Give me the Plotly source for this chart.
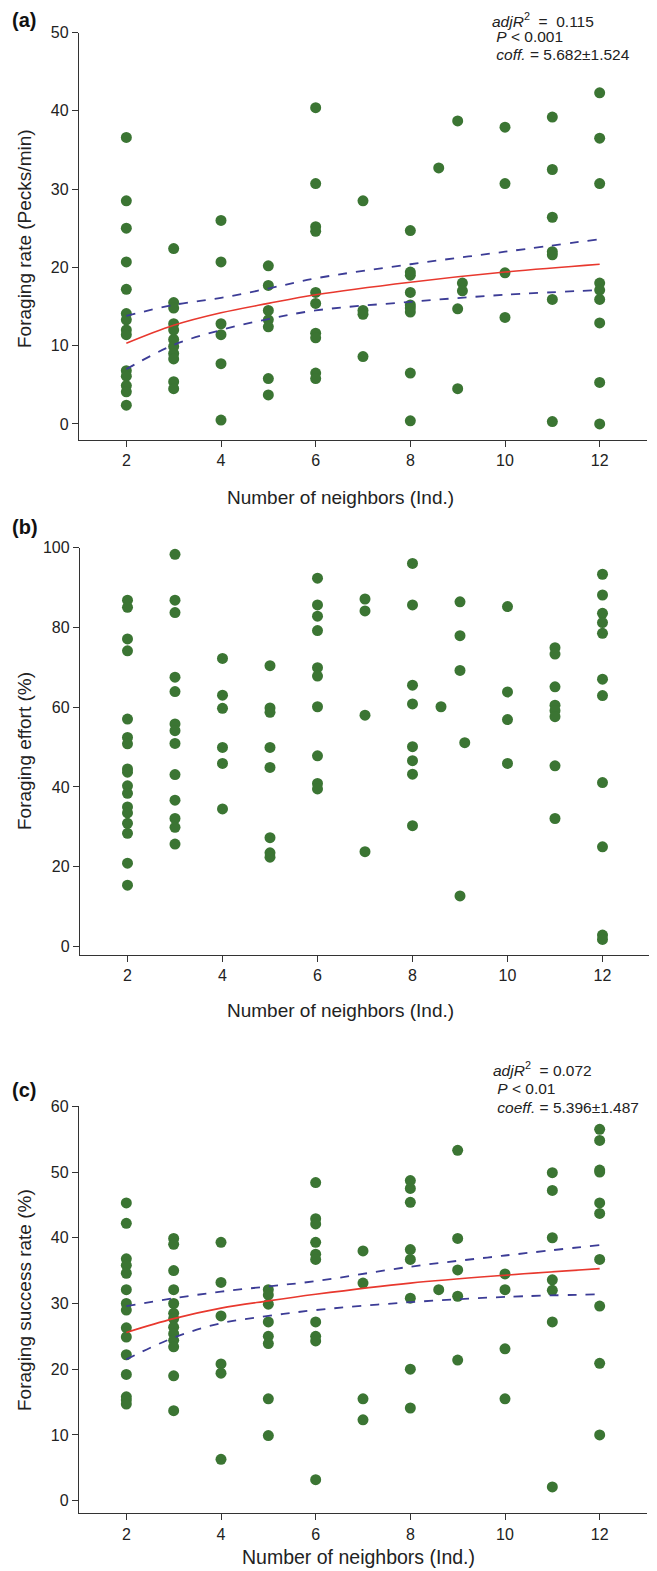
import plotly.graph_objects as go

W, H = 657, 1571
OFF = 8  # browser default body margin
FW, FH = W - OFF, H - OFF

# ---------------- data ----------------
# Panel (a): foraging rate (pecks/min)
a_x = ([2]*14 + [3]*11 + [4]*6 + [5]*7 + [6]*10 + [7]*4 + [8]*9 + [8.6] +
       [9]*3 + [9.1]*2 + [10]*4 + [11]*7 + [12]*9)
a_y = ([36.6, 28.5, 25.0, 20.7, 17.2, 14.1, 13.3, 12.0, 11.4, 6.8, 6.1, 4.9, 4.1, 2.4] +
       [22.4, 15.5, 14.8, 12.8, 12.0, 10.8, 9.9, 9.0, 8.3, 5.4, 4.5] +
       [26.0, 20.7, 12.8, 11.4, 7.7, 0.5] +
       [20.2, 17.7, 14.5, 13.3, 12.4, 5.8, 3.7] +
       [40.4, 30.7, 25.2, 24.6, 16.8, 15.4, 11.6, 11.0, 6.5, 5.8] +
       [28.5, 14.5, 14.0, 8.6] +
       [24.7, 19.4, 19.0, 16.8, 15.2, 14.8, 14.3, 6.5, 0.4] +
       [32.7] +
       [38.7, 14.7, 4.5] + [18.0, 17.0] +
       [37.9, 30.7, 19.3, 13.6] +
       [39.2, 32.5, 26.4, 22.0, 21.6, 15.9, 0.3] +
       [42.3, 36.5, 30.7, 18.0, 17.1, 15.9, 12.9, 5.3, 0.0])

# Panel (b): foraging effort (%)
b_x = ([2]*17 + [3]*13 + [4]*6 + [5]*8 + [6]*10 + [7]*4 + [8]*8 + [8.6] +
       [9]*4 + [9.1] + [10]*4 + [11]*8 + [12]*11)
b_y = ([86.8, 85.0, 77.1, 74.1, 57.0, 52.4, 50.8, 44.5, 43.7, 40.3, 38.4, 35.0, 33.5,
        30.9, 28.4, 20.9, 15.4] +
       [98.3, 86.8, 83.7, 67.5, 63.9, 55.8, 54.1, 50.9, 43.1, 36.7, 32.1, 29.9, 25.7] +
       [72.2, 63.0, 59.7, 49.9, 45.9, 34.5] +
       [70.4, 59.8, 58.7, 49.9, 44.9, 27.3, 23.5, 22.4] +
       [92.3, 85.6, 82.8, 79.2, 69.9, 67.8, 60.1, 47.8, 40.9, 39.5] +
       [87.1, 84.1, 58.0, 23.8] +
       [96.0, 85.6, 65.5, 60.8, 50.1, 46.6, 43.2, 30.3] +
       [60.1] +
       [86.4, 77.9, 69.2, 12.7] + [51.1] +
       [85.2, 63.8, 56.9, 45.9] +
       [74.9, 73.3, 65.1, 60.5, 59.1, 57.6, 45.3, 32.1] +
       [93.3, 88.1, 83.5, 81.2, 78.5, 67.0, 62.9, 41.1, 25.0, 2.9, 1.8])

# Panel (c): foraging success rate (%)
c_x = ([2]*15 + [3]*13 + [4]*6 + [5]*8 + [6]*10 + [7]*4 + [8]*8 + [8.6] +
       [9]*5 + [10]*4 + [11]*7 + [12]*10)
c_y = ([45.3, 42.2, 36.8, 35.8, 34.6, 32.1, 30.0, 29.0, 26.3, 24.9, 22.2, 19.2, 15.8, 15.3, 14.7] +
       [39.9, 39.0, 35.0, 32.1, 30.0, 28.5, 27.7, 26.4, 25.4, 24.4, 23.4, 19.0, 13.7] +
       [39.3, 33.2, 28.1, 20.8, 19.4, 6.3] +
       [32.1, 31.3, 29.9, 27.2, 25.0, 23.9, 15.5, 9.9] +
       [48.4, 42.9, 42.1, 39.3, 37.5, 36.7, 27.2, 25.0, 24.3, 3.2] +
       [38.0, 33.1, 15.5, 12.3] +
       [48.7, 47.5, 45.4, 38.2, 36.7, 30.8, 20.0, 14.1] +
       [32.1] +
       [53.3, 39.9, 35.1, 31.1, 21.4] +
       [34.5, 32.1, 23.1, 15.5] +
       [49.9, 47.2, 40.0, 33.6, 32.0, 27.2, 2.1] +
       [56.5, 54.8, 50.3, 50.0, 45.3, 43.7, 36.7, 29.6, 20.9, 10.0])

# fitted log curves and confidence bands
fit_x = [2, 3, 4, 5, 6, 8, 10, 12]
a_fit = [10.3, 12.6, 14.2, 15.4, 16.5, 18.1, 19.4, 20.4]
a_up = [13.8, 15.2, 16.1, 17.3, 18.6, 20.4, 22.0, 23.6]
a_lo = [7.0, 10.1, 12.0, 13.4, 14.5, 15.6, 16.5, 17.1]
c_fit = [25.6, 27.7, 29.3, 30.4, 31.4, 33.1, 34.3, 35.3]
c_up = [29.6, 30.8, 31.8, 32.6, 33.4, 35.6, 37.3, 38.9]
c_lo = [21.5, 24.8, 27.0, 28.1, 29.0, 30.2, 31.0, 31.4]

x_ticks = [2, 4, 6, 8, 10, 12]
a_ticks = [0, 10, 20, 30, 40, 50]
b_ticks = [0, 20, 40, 60, 80, 100]
c_ticks = [0, 10, 20, 30, 40, 50, 60]

# ---------------- styles ----------------
GREEN = "#3b7533"
RED = "#e8382e"
BLUE = "#3c3c96"
AX = "#333333"
FONT = "Liberation Sans, Arial, sans-serif"


def px_x(p):
    return (p - OFF) / FW


def px_y(p):
    return 1 - (p - OFF) / FH


fig = go.Figure()

panels = [
    ("x", "y", a_x, a_y),
    ("x2", "y2", b_x, b_y),
    ("x3", "y3", c_x, c_y),
]
for xa, ya, xs, ys in panels:
    fig.add_trace(go.Scatter(x=xs, y=ys, mode="markers", xaxis=xa, yaxis=ya,
                             marker=dict(size=11, color=GREEN, line=dict(width=0)),
                             showlegend=False, hoverinfo="x+y"))

for xa, ya, fit, up, lo in [("x", "y", a_fit, a_up, a_lo), ("x3", "y3", c_fit, c_up, c_lo)]:
    for vals in (up, lo):
        fig.add_trace(go.Scatter(x=fit_x, y=vals, mode="lines", xaxis=xa, yaxis=ya,
                                 line=dict(color=BLUE, width=1.8, dash="dash", shape="spline", smoothing=1.0),
                                 showlegend=False, hoverinfo="skip"))
    fig.add_trace(go.Scatter(x=fit_x, y=fit, mode="lines", xaxis=xa, yaxis=ya,
                             line=dict(color=RED, width=1.6, shape="spline", smoothing=1.0),
                             showlegend=False, hoverinfo="skip"))

axis_common = dict(showline=True, linecolor=AX, linewidth=1.3, ticks="outside", ticklen=6,
                   tickwidth=1.2, tickcolor=AX, showgrid=False, zeroline=False, automargin=False,
                   tickfont=dict(family=FONT, size=16, color="#222"))

layout = dict(
    width=FW, height=FH, margin=dict(l=0, r=0, t=0, b=0, pad=0),
    paper_bgcolor="white", plot_bgcolor="white", showlegend=False,
    # panel a
    xaxis=dict(domain=[px_x(79), px_x(647)], range=[1, 13], tickvals=x_ticks, anchor="y", **axis_common),
    yaxis=dict(domain=[px_y(440), px_y(32.5)], range=[-2.05, 50], tickvals=a_ticks, anchor="x", **axis_common),
    # panel b
    xaxis2=dict(domain=[px_x(80), px_x(650)], range=[1, 13], tickvals=x_ticks, anchor="y2", **axis_common),
    yaxis2=dict(domain=[px_y(955), px_y(547.5)], range=[-2.1, 100], tickvals=b_ticks, anchor="x2", **axis_common),
    # panel c
    xaxis3=dict(domain=[px_x(79), px_x(647)], range=[1, 13], tickvals=x_ticks, anchor="y3", **axis_common),
    yaxis3=dict(domain=[px_y(1513.3), px_y(1106.3)], range=[-1.92, 60], tickvals=c_ticks, anchor="x3", **axis_common),
)
fig.update_layout(**layout)


def ann(text, x, y, size, xanchor="center", yanchor="middle", angle=0, bold=False, color="#222"):
    if bold:
        text = "<b>" + text + "</b>"
    fig.add_annotation(text=text, x=px_x(x), y=px_y(y), xref="paper", yref="paper",
                       showarrow=False, xanchor=xanchor, yanchor=yanchor, textangle=angle,
                       font=dict(family=FONT, size=size, color=color))


# panel labels
ann("(a)", 10, 20, 20, xanchor="left", bold=True, color="#111")
ann("(b)", 10, 527, 20, xanchor="left", bold=True, color="#111")
ann("(c)", 10, 1090, 20, xanchor="left", bold=True, color="#111")

# y titles
ann("Foraging rate (Pecks/min)", 24, 239, 19, angle=-90)
ann("Foraging effort (%)", 24, 751, 19, angle=-90)
ann("Foraging success rate (%)", 24, 1300, 19, angle=-90)

# x titles
ann("Number of neighbors (Ind.)", 340, 497, 19)
ann("Number of neighbors (Ind.)", 340, 1010, 19)
ann("Number of neighbors (Ind.)", 358, 1557, 19.5)

# statistics text
ann("<i>adjR</i><sup>2</sup>  =  0.115", 490, 20, 15.5, xanchor="left")
ann(" <i>P</i> < 0.001", 490, 37, 15.5, xanchor="left")
ann(" <i>coff.</i> = 5.682±1.524", 490, 55, 15.5, xanchor="left")

ann("<i>adjR</i><sup>2</sup>  = 0.072", 491, 1069, 15.5, xanchor="left")
ann(" <i>P</i> < 0.01", 491, 1088, 15.5, xanchor="left")
ann(" <i>coeff.</i> = 5.396±1.487", 491, 1107, 15.5, xanchor="left")

fig.write_html("out.html")
